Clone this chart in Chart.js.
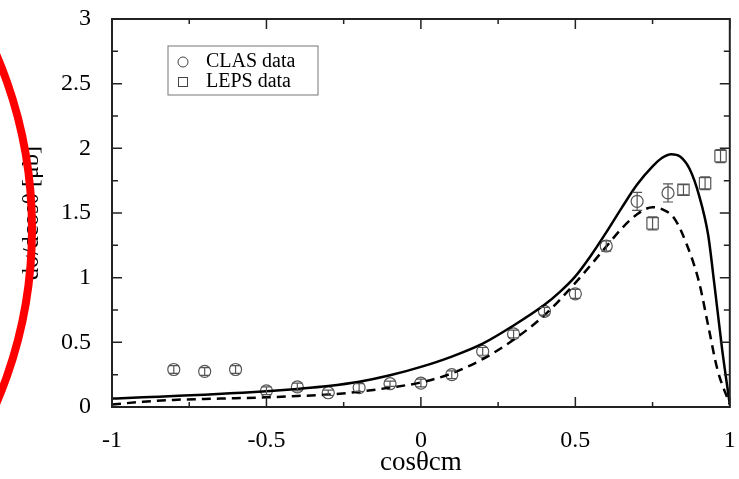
<!DOCTYPE html>
<html lang="en">
<head>
  <meta charset="UTF-8" />
  <title>dσ/dcosθ vs cosθcm</title>
  <script src="https://cdn.jsdelivr.net/npm/chart.js"></script>
  <style>
    body {
      margin: 0;
      padding: 0;
      background-color: #fff;
    }
    .chart-wrap {
      width: 739px;
      height: 479px;
      position: relative;
    }
  </style>
</head>
<body>

  <div class="chart-wrap">
    <canvas id="xsChart"></canvas>
  </div>

  <script>
    // model curves
    const solidX  = [-1, -0.9, -0.8, -0.7, -0.6, -0.5, -0.4, -0.3, -0.2, -0.1, 0, 0.1, 0.2, 0.3, 0.4, 0.45, 0.5, 0.55, 0.6, 0.65, 0.7, 0.75, 0.78, 0.81, 0.84, 0.87, 0.9, 0.93, 0.95, 0.975, 1];
    const solidY  = [0.065, 0.075, 0.085, 0.095, 0.108, 0.122, 0.14, 0.162, 0.195, 0.245, 0.31, 0.39, 0.49, 0.63, 0.79, 0.89, 1.01, 1.17, 1.35, 1.54, 1.72, 1.86, 1.925, 1.955, 1.935, 1.84, 1.64, 1.33, 0.95, 0.45, 0.02];
    const dashedX = [-1, -0.9, -0.8, -0.7, -0.6, -0.5, -0.4, -0.3, -0.2, -0.1, 0, 0.1, 0.2, 0.3, 0.4, 0.5, 0.6, 0.65, 0.7, 0.75, 0.78, 0.82, 0.86, 0.9, 0.93, 0.96, 1];
    const dashedY = [0.02, 0.04, 0.055, 0.062, 0.068, 0.075, 0.085, 0.096, 0.118, 0.15, 0.19, 0.26, 0.37, 0.52, 0.71, 0.96, 1.24, 1.38, 1.49, 1.545, 1.53, 1.46, 1.26, 0.97, 0.63, 0.29, 0.02];

    // CLAS data
    const clasX   = [-0.8, -0.7, -0.6, -0.5, -0.4, -0.3, -0.2, -0.1, 0, 0.1, 0.2, 0.3, 0.4, 0.5, 0.6, 0.7, 0.8];
    const clasY   = [0.29, 0.275, 0.29, 0.125, 0.155, 0.11, 0.15, 0.18, 0.185, 0.25, 0.43, 0.565, 0.74, 0.875, 1.245, 1.59, 1.655];
    const clasErr = [0.03, 0.03, 0.03, 0.03, 0.03, 0.02, 0.03, 0.02, 0.03, 0.03, 0.03, 0.03, 0.03, 0.035, 0.04, 0.07, 0.07];

    // LEPS data
    const lepsX   = [0.75, 0.85, 0.92, 0.97];
    const lepsY   = [1.42, 1.68, 1.73, 1.94];
    const lepsErr = [0.05, 0.04, 0.05, 0.05];

    // axis ticks
    const xTicks = [-1, -0.5, 0, 0.5, 1];
    const xTickLabels = ['-1', '-0.5', '0', '0.5', '1'];
    const yTicks = [0, 0.5, 1, 1.5, 2, 2.5, 3];
    const yTickLabels = ['0', '0.5', '1', '1.5', '2', '2.5', '3'];
    const xMinor = [-0.75, -0.25, 0.25, 0.75];
    const yMinor = [0.25, 0.75, 1.25, 1.75, 2.25, 2.75];

    const toPts = (xs, ys) => xs.map((x, i) => ({ x: x, y: ys[i] }));
    const serif = "'Liberation Serif', 'DejaVu Serif', serif";

    // error bars through the markers
    const errorBars = {
      id: 'errorBars',
      afterDatasetsDraw(chart) {
        const ctx = chart.ctx;
        const ys = chart.scales.y;
        chart.data.datasets.forEach((ds, di) => {
          if (!ds.errors) return;
          const meta = chart.getDatasetMeta(di);
          ctx.save();
          ctx.strokeStyle = '#555';
          ctx.lineWidth = 1.2;
          meta.data.forEach((pt, i) => {
            const v = ds.data[i].y;
            const top = ys.getPixelForValue(v + ds.errors[i]);
            const bot = ys.getPixelForValue(v - ds.errors[i]);
            ctx.beginPath();
            ctx.moveTo(pt.x, top); ctx.lineTo(pt.x, bot);
            ctx.moveTo(pt.x - 5, top); ctx.lineTo(pt.x + 5, top);
            ctx.moveTo(pt.x - 5, bot); ctx.lineTo(pt.x + 5, bot);
            ctx.stroke();
          });
          ctx.restore();
        });
      }
    };

    // frame with inward ticks, legend box, red marking
    const frame = {
      id: 'frame',
      afterDraw(chart) {
        const ctx = chart.ctx;
        const a = chart.chartArea;
        const xs = chart.scales.x, ys = chart.scales.y;
        ctx.save();
        ctx.strokeStyle = '#222';
        ctx.lineWidth = 2;
        ctx.strokeRect(a.left, a.top, a.right - a.left, a.bottom - a.top);
        ctx.lineWidth = 1.5;
        ctx.beginPath();
        const xt = (v, len) => {
          const p = xs.getPixelForValue(v);
          ctx.moveTo(p, a.bottom); ctx.lineTo(p, a.bottom - len);
          ctx.moveTo(p, a.top); ctx.lineTo(p, a.top + len);
        };
        const yt = (v, len) => {
          const p = ys.getPixelForValue(v);
          ctx.moveTo(a.left, p); ctx.lineTo(a.left + len, p);
          ctx.moveTo(a.right, p); ctx.lineTo(a.right - len, p);
        };
        xTicks.forEach(v => xt(v, 10));
        xMinor.forEach(v => xt(v, 5));
        yTicks.forEach(v => yt(v, 10));
        yMinor.forEach(v => yt(v, 6));
        ctx.stroke();

        // legend
        const lx = a.left + 56, ly = a.top + 27;
        ctx.strokeStyle = '#777';
        ctx.lineWidth = 1;
        ctx.strokeRect(lx, ly, 150, 49);
        ctx.strokeStyle = '#444';
        ctx.beginPath();
        ctx.arc(lx + 15, ly + 16, 5, 0, Math.PI * 2);
        ctx.stroke();
        ctx.strokeRect(lx + 10.5, ly + 31.5, 9, 9);
        ctx.fillStyle = '#000';
        ctx.font = '20px ' + serif;
        ctx.textBaseline = 'middle';
        ctx.fillText(chart.data.datasets[2].label, lx + 38, ly + 16);
        ctx.fillText(chart.data.datasets[3].label, lx + 38, ly + 36);

        // red hand-drawn ellipse over the y title
        ctx.strokeStyle = '#f00';
        ctx.lineWidth = 8;
        ctx.beginPath();
        ctx.ellipse(-325, 229, 357, 400, 0, 0, Math.PI * 2);
        ctx.stroke();
        ctx.restore();
      }
    };

    new Chart(document.getElementById('xsChart'), {
      type: 'scatter',
      data: {
        datasets: [
          {
            label: 'model',
            data: toPts(solidX, solidY),
            showLine: true,
            borderColor: '#000',
            borderWidth: 2.5,
            pointRadius: 0,
            cubicInterpolationMode: 'monotone'
          },
          {
            label: 'model (dashed)',
            data: toPts(dashedX, dashedY),
            showLine: true,
            borderColor: '#000',
            borderWidth: 2.5,
            borderDash: [9, 6],
            pointRadius: 0,
            cubicInterpolationMode: 'monotone'
          },
          {
            label: 'CLAS data',
            data: toPts(clasX, clasY),
            errors: clasErr,
            pointStyle: 'circle',
            pointRadius: 6,
            borderColor: '#555',
            borderWidth: 1.2,
            backgroundColor: 'rgba(0,0,0,0)'
          },
          {
            label: 'LEPS data',
            data: toPts(lepsX, lepsY),
            errors: lepsErr,
            pointStyle: 'rect',
            pointRadius: 8,
            borderColor: '#555',
            borderWidth: 1.2,
            backgroundColor: 'rgba(0,0,0,0)'
          }
        ]
      },
      options: {
        responsive: true,
        maintainAspectRatio: false,
        animation: false,
        layout: { padding: { left: 0, right: 7, top: 19, bottom: 0 } },
        scales: {
          x: {
            type: 'linear',
            min: -1,
            max: 1,
            afterBuildTicks: s => { s.ticks = xTicks.map(v => ({ value: v })); },
            afterFit: s => { s.height = 72; s.paddingLeft = 0; s.paddingRight = 0; },
            grid: { display: false },
            border: { display: false },
            ticks: {
              color: '#000',
              font: { family: serif, size: 24 },
              padding: 11,
              maxRotation: 0,
              callback: (v, i) => xTickLabels[i]
            },
            title: { display: true, text: 'cosθcm', color: '#000', font: { family: serif, size: 27 }, padding: { top: 0, bottom: 0 } }
          },
          y: {
            min: 0,
            max: 3,
            afterBuildTicks: s => { s.ticks = yTicks.map(v => ({ value: v })); },
            afterFit: s => { s.width = 112; s.paddingTop = 0; s.paddingBottom = 0; },
            grid: { display: false },
            border: { display: false },
            ticks: {
              color: '#000',
              font: { family: serif, size: 24 },
              padding: 13,
              callback: (v, i) => yTickLabels[i]
            },
            title: { display: true, text: 'dσ/dcosθ [μb]', color: '#000', font: { family: serif, size: 24 }, padding: { top: 17, bottom: 0 } }
          }
        },
        plugins: {
          legend: { display: false },
          tooltip: { enabled: false }
        }
      },
      plugins: [errorBars, frame]
    });
  </script>

</body>
</html>
